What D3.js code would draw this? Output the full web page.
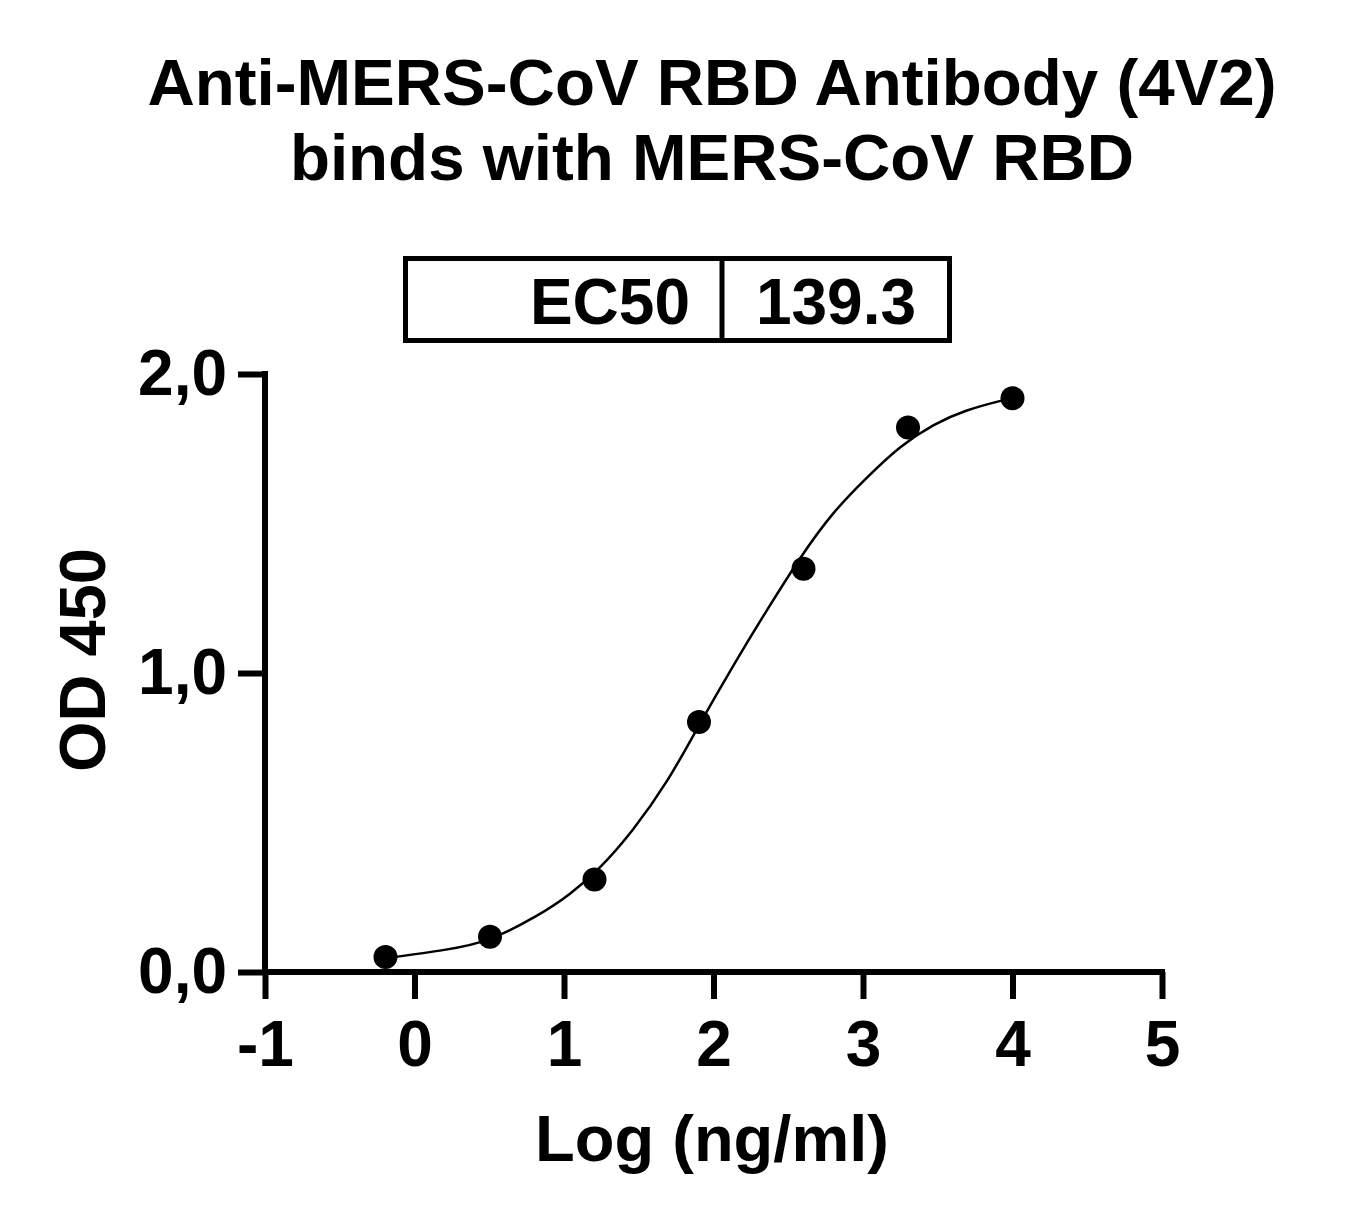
<!DOCTYPE html>
<html>
<head>
<meta charset="utf-8">
<script src="https://cdn.jsdelivr.net/npm/d3@7"></script>
<style>
  body { margin: 0; background: white; }
  text { font-family: "Liberation Sans", Arial, sans-serif; font-weight: bold; fill: black; }
</style>
</head>
<body>
<div id="container"></div>
<script>
let w = 1362;
let h = 1219;

// DATA
let titleLines = ["Anti-MERS-CoV RBD Antibody (4V2)", "binds with MERS-CoV RBD"];
let xLabel = "Log (ng/ml)";
let yLabel = "OD 450";
let ec50Label = "EC50";
let ec50Value = "139.3";

let xTicks = [-1, 0, 1, 2, 3, 4, 5];
let yTicks = [0, 1, 2];

// measured points
let pointX = [-0.194, 0.505, 1.204, 1.903, 2.602, 3.301, 4.0];
let pointY = [0.050, 0.118, 0.309, 0.836, 1.349, 1.821, 1.919];

// fitted curve
let curveX = [-0.194, 0.2, 0.5, 0.81, 1.04, 1.24, 1.46, 1.69, 1.9, 2.13, 2.36, 2.58, 2.8, 3.03, 3.25, 3.47, 3.69, 3.92, 4.0];
let curveY = [0.046, 0.074, 0.110, 0.186, 0.262, 0.350, 0.476, 0.640, 0.822, 1.022, 1.212, 1.384, 1.533, 1.655, 1.755, 1.828, 1.877, 1.910, 1.919];

// SVG
let viz = d3.select("#container").append("svg")
  .attr("width", w)
  .attr("height", h)
  .style("background-color", "white");

let xScale = d3.scaleLinear().domain([-1, 5]).range([265, 1162]);
let yScale = d3.scaleLinear().domain([0, 2]).range([972, 374]);

let commaLocale = d3.formatLocale({decimal: ",", thousands: ".", grouping: [3], currency: ["", ""], minus: "-"});

// title
viz.selectAll(".title").data(titleLines).enter()
  .append("text")
  .attr("class", "title")
  .attr("x", 712)
  .attr("y", function(d, i) { return 105 + i * 75; })
  .attr("text-anchor", "middle")
  .style("font-size", "65.5px")
  .text(function(d) { return d; });

// EC50 box
let box = viz.append("g");
box.append("rect")
  .attr("x", 405.5).attr("y", 258.5)
  .attr("width", 544).attr("height", 82)
  .attr("fill", "none").attr("stroke", "black").attr("stroke-width", 5);
box.append("line")
  .attr("x1", 722).attr("x2", 722).attr("y1", 258.5).attr("y2", 340.5)
  .attr("stroke", "black").attr("stroke-width", 5);
box.append("text")
  .attr("x", 690).attr("y", 324)
  .attr("text-anchor", "end")
  .style("font-size", "64px")
  .text(ec50Label);
box.append("text")
  .attr("x", 836).attr("y", 324)
  .attr("text-anchor", "middle")
  .style("font-size", "64px")
  .text(ec50Value);

// axes
let xAxis = d3.axisBottom(xScale)
  .tickValues(xTicks)
  .tickFormat(commaLocale.format("d"))
  .tickSize(27)
  .tickSizeOuter(0)
  .tickPadding(22);

let yAxis = d3.axisLeft(yScale)
  .tickValues(yTicks)
  .tickFormat(commaLocale.format(".1f"))
  .tickSize(27)
  .tickSizeOuter(0)
  .tickPadding(11);

let xG = viz.append("g")
  .attr("transform", "translate(0,972)")
  .call(xAxis);

let yG = viz.append("g")
  .attr("transform", "translate(265,0)")
  .call(yAxis);

[xG, yG].forEach(function(g) {
  g.select(".domain").attr("stroke", "black").attr("stroke-width", 6);
  g.selectAll(".tick line").attr("stroke", "black").attr("stroke-width", 6);
  g.selectAll(".tick text")
    .attr("fill", "black")
    .style("font-family", "'Liberation Sans', Arial, sans-serif")
    .style("font-weight", "bold")
    .style("font-size", "64px");
});
// extend the domains so the corners join cleanly
xG.select(".domain").attr("d", "M" + (xScale(-1) - 3) + ",0H" + (xScale(5) + 3));
yG.select(".domain").attr("d", "M0," + (yScale(0) + 3) + "V" + (yScale(2) - 3));

// axis titles
viz.append("text")
  .attr("x", 712).attr("y", 1161)
  .attr("text-anchor", "middle")
  .style("font-size", "65px")
  .text(xLabel);

viz.append("text")
  .attr("transform", "translate(105,660) rotate(-90)")
  .attr("text-anchor", "middle")
  .style("font-size", "65px")
  .text(yLabel);

// curve
let curveData = curveX.map(function(d, i) { return {x: d, y: curveY[i]}; });
let lineMaker = d3.line()
  .x(function(d) { return xScale(d.x); })
  .y(function(d) { return yScale(d.y); })
  .curve(d3.curveNatural);

viz.append("path")
  .datum(curveData)
  .attr("d", lineMaker)
  .attr("fill", "none")
  .attr("stroke", "black")
  .attr("stroke-width", 2.5);

// points
let pointData = pointX.map(function(d, i) { return {x: d, y: pointY[i]}; });
viz.selectAll(".dot").data(pointData).enter()
  .append("circle")
  .attr("class", "dot")
  .attr("cx", function(d) { return xScale(d.x); })
  .attr("cy", function(d) { return yScale(d.y); })
  .attr("r", 12)
  .attr("fill", "black");
</script>
</body>
</html>
